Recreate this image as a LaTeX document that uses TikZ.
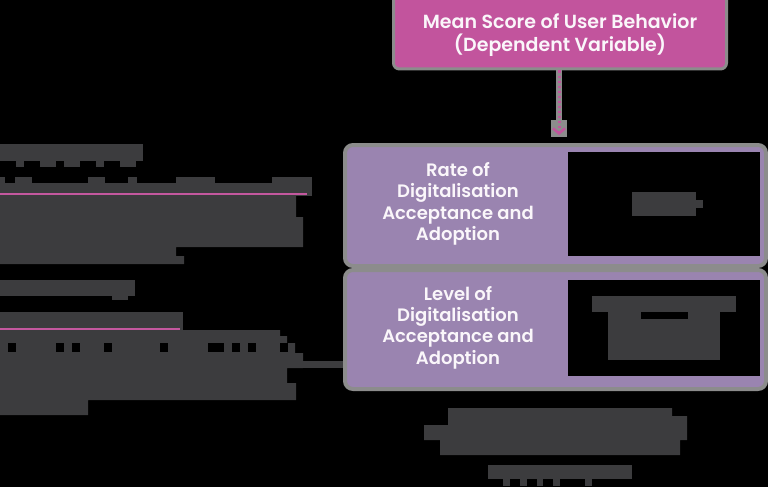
\documentclass[tikz,border=0pt]{standalone}
\usepackage{fontspec}
\setmainfont{Poppins}[BoldFont=*-SemiBold]
\usetikzlibrary{arrows.meta}
\definecolor{ink}{HTML}{3C3C3E}
\definecolor{rose}{HTML}{C2549D}
\definecolor{roseline}{HTML}{C4589F}
\definecolor{lilac}{HTML}{9A84B0}
\definecolor{rim}{HTML}{8C8C8C}
\definecolor{paper}{HTML}{FAF6FA}
\tikzset{
  pinkbox/.style={fill=rose, draw=rim, line width=3pt, rounded corners=6pt,
    minimum width=333pt, minimum height=76pt, inner sep=0pt},
  lilacbox/.style={fill=lilac, draw=rim, line width=4pt, rounded corners=8pt,
    minimum width=421pt, inner sep=0pt},
  infobox/.style={fill=black, draw=none, minimum width=192pt, inner sep=0pt},
  headtext/.style={text=paper, font=\fontsize{19}{23}\selectfont\bfseries, align=center, inner sep=0pt},
  boxtext/.style={text=paper, font=\fontsize{18}{21.3}\selectfont\bfseries, align=center, inner sep=0pt},
  dotarrow/.style={draw=rose, line width=3pt, dash pattern=on 2.5pt off 2.5pt,
    -{Straight Barb[length=5pt,width=12pt,line width=2.5pt]}},
  underline/.style={draw=roseline, line width=2.2pt},
  linkline/.style={draw=ink, line width=7pt},
}
\begin{document}
\begin{tikzpicture}[x=1pt,y=-1pt]
\fill[black] (0,0) rectangle (768,487);
\useasboundingbox (0,0) rectangle (768,487);

% ---- dependent variable box and its dotted arrow
\node[pinkbox] (dvbox) at (560,31) {};
\node[headtext] (dv) at (560,35) {Mean Score of User Behavior\\(Dependent Variable)};
\coordinate (tip) at (559,135);
\fill[rim] (556,69) rectangle (562,122);
\fill[rim] (551,120) rectangle (567,137);
\draw[dotarrow] (dvbox.south -| tip) -- (tip);

% ---- independent variable boxes
\node[lilacbox, minimum height=121pt] (ratebox) at (555.5,205.5) {};
\node[lilacbox, minimum height=119pt] (levelbox) at (555.5,329.5) {};
\node[infobox, minimum height=104pt] (rateinfo) at (664,204) {};
\node[infobox, minimum height=96pt] (levelinfo) at (664,328) {};
\node[boxtext] (rate) at (458,204) {Rate of\\Digitalisation\\Acceptance and\\Adoption};
\node[boxtext] (level) at (458,327.5) {Level of\\Digitalisation\\Acceptance and\\Adoption};

% shaded text lines inside the info panels
\fill[ink] (632,192) rectangle (696,216);
\fill[ink] (696,200) rectangle (703,208);
\fill[ink] (592,296) rectangle (736,312);
\fill[ink] (608,312) rectangle (720,360);
\fill[black] (641,312) rectangle (688,319);

% ---- left column, first paragraph
\fill[ink] (0,144) rectangle (143,161);
\foreach \a/\b in {16/24,40/56,64/80,96/104,120/136}
  \fill[ink] (\a,161) rectangle (\b,167);
\foreach \a/\b in {0/5,15/32,88/105,128/137,176/215,272/312}
  \fill[ink] (\a,177) rectangle (\b,184);
\fill[ink] (0,183) rectangle (312,196);
\fill[ink] (0,195) -- (296,195) -- (296,217) -- (303,217) -- (303,247)
  -- (176,247) -- (176,256) -- (184,256) -- (184,264) -- (0,264) -- cycle;
\coordinate (u1a) at (0,194);
\coordinate (u1b) at (307,194);
\draw[underline] (u1a) -- (u1b);

% ---- left column, second paragraph
\fill[ink] (0,280) rectangle (135,296);
\fill[ink] (112,296) rectangle (128,300);
\fill[ink] (0,312) rectangle (183,330);
\fill[ink] (0,330) -- (280,330) -- (280,336) -- (287,336) -- (287,343)
  -- (295,343) -- (295,353) -- (303,353) -- (303,368) -- (287,368)
  -- (287,383) -- (296,383) -- (296,400) -- (88,400) -- (88,415)
  -- (0,415) -- cycle;
\foreach \a/\b in {8/16,56/64,72/80,104/112,160/168,208/224,232/240,248/256,280/288}
  \fill[black] (\a,343) rectangle (\b,352);
\coordinate (u2a) at (0,329);
\coordinate (u2b) at (180,329);
\draw[underline] (u2a) -- (u2b);
\coordinate (lnk) at (303,364);
\draw[linkline] (lnk) -- (levelbox.west |- lnk);

% ---- caption under the boxes
\fill[ink] (448,408) -- (672,408) -- (672,416) -- (687,416) -- (687,440)
  -- (680,440) -- (680,455) -- (440,455) -- (440,440) -- (424,440)
  -- (424,425) -- (448,425) -- cycle;
\fill[ink] (488,465) rectangle (632,479);
\foreach \a/\b in {503/510,520/527,537/543,553/560,585/592}
  \fill[ink] (\a,479) rectangle (\b,486);
\end{tikzpicture}
\end{document}
